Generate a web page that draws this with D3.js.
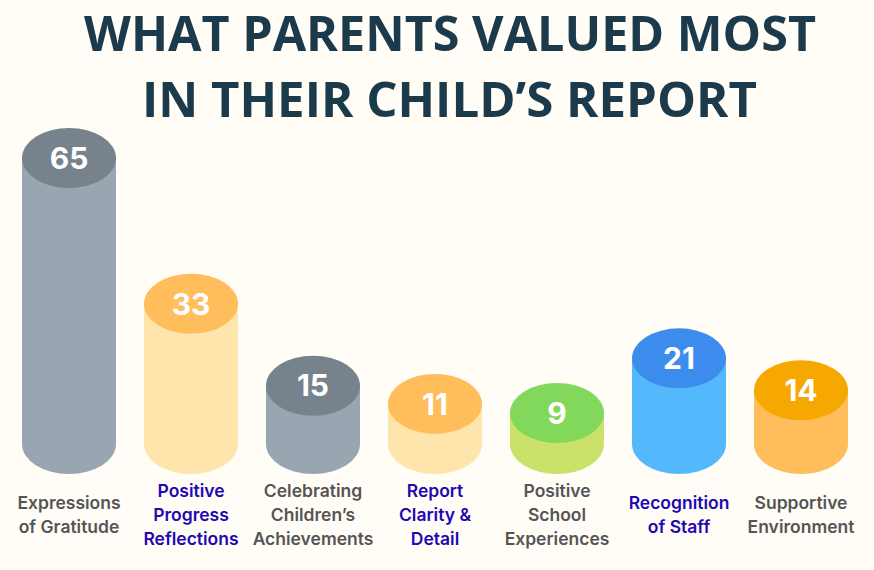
<!DOCTYPE html>
<html>
<head>
<meta charset="utf-8">
<script src="https://cdn.jsdelivr.net/npm/d3@7"></script>
<style>
  html, body { margin: 0; padding: 0; background: #fffdf6; }
  svg { display: block; }
</style>
</head>
<body>
<svg id="chart" width="874" height="570"></svg>
<script>
// ---- data ----
const titleLines = ["WHAT PARENTS VALUED MOST", "IN THEIR CHILD\u2019S REPORT"];
const categories = [
  ["Expressions", "of Gratitude"],
  ["Positive", "Progress", "Reflections"],
  ["Celebrating", "Children\u2019s", "Achievements"],
  ["Report", "Clarity &", "Detail"],
  ["Positive", "School", "Experiences"],
  ["Recognition", "of Staff"],
  ["Supportive", "Environment"]
];
const values = [65, 33, 15, 11, 9, 21, 14];
const bodyColors = ["#99a5b0", "#fee5ab", "#99a5b0", "#fee5ab", "#cbe26a", "#54b9fc", "#ffbd5c"];
const topColors  = ["#77838c", "#ffbd5c", "#77838c", "#ffbd5c", "#82d85a", "#3c8ced", "#f7a800"];
const labelColors = ["#555555", "#2208b0", "#555555", "#2208b0", "#555555", "#2208b0", "#555555"];

// ---- layout ----
const svg = d3.select("#chart");
const W = 874, H = 570;
svg.append("rect").attr("width", W).attr("height", H).attr("fill", "#fffdf6");

const idx = d3.range(values.length);
const x = d3.scalePoint().domain(idx).range([69, 801]);
const baseY = 444;
const y = d3.scaleLinear().domain([0, 65]).range([454, 158]);
const rx = 47, ry = 30;

// title
const titleBaselines = [51, 117];
const titleWidths = [732, 615];
const titleCenters = [450, 449.5];
svg.selectAll("text.title").data(titleLines).join("text")
  .attr("class", "title")
  .attr("x", (d, i) => titleCenters[i] - titleWidths[i] / 2)
  .attr("y", (d, i) => titleBaselines[i])
  .attr("textLength", (d, i) => titleWidths[i])
  .attr("lengthAdjust", "spacingAndGlyphs")
  .attr("font-family", "'Open Sans', 'Liberation Sans', sans-serif")
  .attr("font-weight", 700)
  .attr("font-size", 48)
  .attr("fill", "#1b3a4b")
  .text(d => d);

// cylinders
const g = svg.selectAll("g.cyl").data(idx).join("g").attr("class", "cyl");

g.append("path")
  .attr("fill", i => bodyColors[i])
  .attr("d", i => {
    const cx = x(i), top = Math.min(y(values[i]), baseY);
    return `M${cx - rx},${top} L${cx - rx},${baseY} A${rx},${ry} 0 0 0 ${cx + rx},${baseY} L${cx + rx},${top} Z`;
  });

g.append("ellipse")
  .attr("cx", i => x(i))
  .attr("cy", i => y(values[i]))
  .attr("rx", rx).attr("ry", ry)
  .attr("fill", i => topColors[i]);

g.append("text")
  .attr("x", i => x(i))
  .attr("y", i => y(values[i]))
  .attr("dy", "0.36em")
  .attr("text-anchor", "middle")
  .attr("font-family", "Inter, 'Liberation Sans', sans-serif")
  .attr("font-weight", 700)
  .attr("font-size", 30)
  .attr("fill", "#ffffff")
  .text(i => values[i]);

// category labels, vertically centred on a common line
const labelCenter = 515, lineH = 24;
g.append("text")
  .attr("text-anchor", "middle")
  .attr("font-family", "Inter, 'Liberation Sans', sans-serif")
  .attr("font-weight", 600)
  .attr("font-size", 17.5)
  .attr("fill", i => labelColors[i])
  .each(function(i) {
    const lines = categories[i];
    const t = d3.select(this);
    const start = labelCenter - (lines.length - 1) * lineH / 2;
    lines.forEach((ln, k) => {
      t.append("tspan")
        .attr("x", x(i))
        .attr("y", start + k * lineH)
        .attr("dy", "0.36em")
        .text(ln);
    });
  });
</script>
</body>
</html>
